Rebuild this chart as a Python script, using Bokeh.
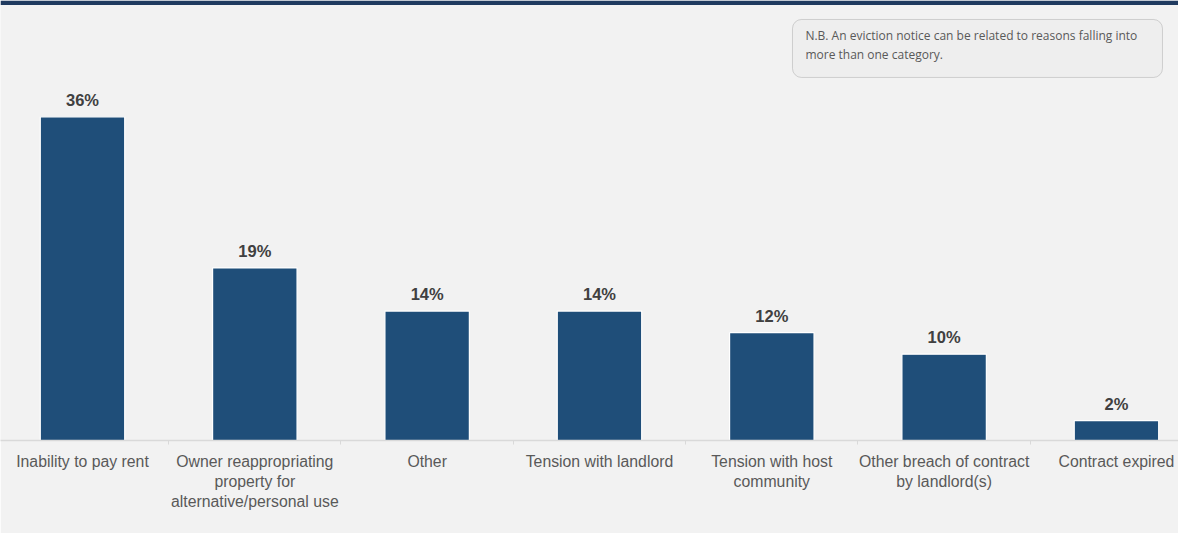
from bokeh.plotting import figure
from bokeh.models import (ColumnDataSource, Range1d, FixedTicker, BoxAnnotation, Label, LabelSet)
from bokeh.core.properties import value
from bokeh.embed import file_html
from bokeh.resources import INLINE

categories = [
    "Inability to pay rent",
    "Owner reappropriating\nproperty for\nalternative/personal use",
    "Other",
    "Tension with landlord",
    "Tension with host\ncommunity",
    "Other breach of contract\nby landlord(s)",
    "Contract expired",
]
values = [36.0, 19.2, 14.4, 14.4, 12.0, 9.6, 2.2]
value_labels = ["36%", "19%", "14%", "14%", "12%", "10%", "2%"]
note_text = "N.B. An eviction notice can be related to reasons falling into\nmore than one category."

xs = list(range(len(categories)))
src = ColumnDataSource(dict(x=xs, top=values, lab=value_labels))

BG = "#f2f2f2"
YTOP = 48.94
p = figure(width=1178, height=533, output_backend="svg", toolbar_location=None,
           x_range=Range1d(-0.4758, 6.36), y_range=Range1d(0, YTOP),
           min_border_left=0, min_border_right=0, min_border_top=0, min_border_bottom=93,
           background_fill_color=BG, border_fill_color=BG, outline_line_color=None)

# thin dark band at the top (remnant of the title bar)
p.add_layout(BoxAnnotation(bottom=YTOP - 0.5, top=YTOP, fill_color="#1f3a5f",
                           fill_alpha=1.0, line_color=None))

p.vbar(x="x", top="top", width=0.49, bottom=0, source=src,
       fill_color="#1f4e79", line_color="white", line_width=1.2)

p.add_layout(LabelSet(x="x", y="top", text="lab", source=src, text_align="center",
                      text_baseline="bottom", y_offset=8, text_font=value("Liberation Sans"),
                      text_font_style="bold", text_font_size="16.5px", text_color="#404040"))

p.yaxis.visible = False
p.grid.visible = False
ax = p.xaxis[0]
ax.ticker = FixedTicker(ticks=xs, minor_ticks=[i + 0.5 for i in xs[:-1]])
ax.major_label_overrides = {i: c for i, c in zip(xs, categories)}
ax.major_tick_out = 0
ax.major_tick_in = 0
ax.minor_tick_out = 4
ax.minor_tick_in = 0
ax.minor_tick_line_color = "#d9d9d9"
ax.axis_line_color = "#d9d9d9"
ax.axis_line_width = 1.5
ax.major_label_standoff = 8
ax.major_label_text_font = "Liberation Sans"
ax.major_label_text_font_size = "15.8px"
ax.major_label_text_color = "#595959"
ax.major_label_text_line_height = 1.18

p.add_layout(BoxAnnotation(left=4.12, right=6.267, bottom=40.38, top=46.83,
                           fill_color="#eeeeee", fill_alpha=1.0,
                           line_color="#808080", line_width=1, border_radius=9))
p.add_layout(Label(x=4.195, y=45.95, text=note_text, text_baseline="top",
                   text_font="Open Sans", text_font_size="12px", text_color="#595959",
                   text_line_height=1.12))

open("out.html", "w").write(file_html(p, INLINE))
